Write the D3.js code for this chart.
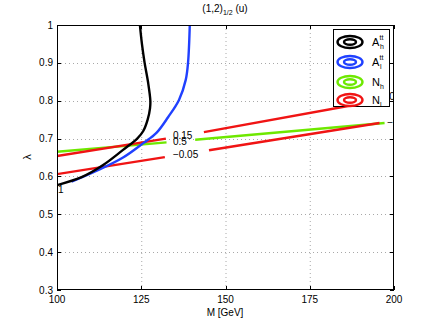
<!DOCTYPE html>
<html><head><meta charset="utf-8">
<script src="https://cdn.jsdelivr.net/npm/d3@7"></script>
<style>body{margin:0;background:#fff}text{font-family:"Liberation Sans",Arial,sans-serif}</style>
</head><body><svg id="c" width="436" height="327"></svg>
<script>
// ---- data ----
const xTicks = [100, 125, 150, 175, 200];
const yTicks = [0.3, 0.4, 0.5, 0.6, 0.7, 0.8, 0.9, 1];
const yTickLabels = ["0.3","0.4","0.5","0.6","0.7","0.8","0.9","1"];
// A_h^tt contour (M, lambda)
const blackM = [100, 107.3, 113.7, 119.6, 123.8, 125.6, 126.9, 127.6, 127.7, 127.0, 126.0, 125.2, 124.6];
const blackL = [0.577, 0.598, 0.630, 0.670, 0.700, 0.720, 0.750, 0.780, 0.800, 0.850, 0.900, 0.950, 1.000];
// A_l^tt contour
const blueM = [104.3, 111.8, 119.6, 125.6, 129.5, 133.0, 136.2, 138.2, 138.9, 139.4];
const blueL = [0.586, 0.615, 0.650, 0.688, 0.715, 0.757, 0.802, 0.855, 0.902, 1.000];
// N_h contour (0.5), two pieces around its label
const greenSeg1M = [100, 132.5], greenSeg1L = [0.665, 0.690];
const greenSeg2M = [141, 197.2], greenSeg2L = [0.697, 0.741];
// N_l contours 0.15 and -0.05
const redASeg1M = [100, 132.3], redASeg1L = [0.654, 0.700];
const redASeg2M = [143.6, 195], redASeg2L = [0.717, 0.800];
const redBSeg1M = [100, 132], redBSeg1L = [0.606, 0.651];
const redBSeg2M = [145.1, 195.7], redBSeg2L = [0.669, 0.741];
// contour labels
const labelText = ["0.15", "0.5", "\u22120.05", "0.15", "\u22120.05", "0.1"];
const labelM = [134.4, 134.4, 134.4, 198.6, 198.0, 97.8];
const labelL = [0.700, 0.682, 0.648, 0.802, 0.733, 0.556];
const legendNames = ["A", "A", "N", "N"];
const legendSup = ["tt", "tt", "", ""];
const legendSub = ["h", "l", "h", "l"];
const colors = ["#000000", "#2040ff", "#6ee800", "#f01414"];

// ---- drawing ----
const svg = d3.select("#c");
const x = d3.scaleLinear([100, 200], [57, 394]);
const y = d3.scaleLinear([0.3, 1], [290, 25]);

svg.append("defs").append("clipPath").attr("id", "clip")
  .append("rect").attr("x", 57).attr("y", 25).attr("width", 337).attr("height", 265);

// grid
const grid = svg.append("g").attr("stroke", "#a8a8a8").attr("stroke-width", 1).attr("stroke-dasharray", "1,3");
xTicks.slice(1, -1).forEach(t => grid.append("line").attr("x1", x(t)+0.5).attr("x2", x(t)+0.5).attr("y1", 25).attr("y2", 290));
yTicks.slice(1, -1).forEach(t => grid.append("line").attr("y1", Math.round(y(t))+0.5).attr("y2", Math.round(y(t))+0.5).attr("x1", 57).attr("x2", 394));

const plot = svg.append("g").attr("clip-path", "url(#clip)");
const line = d3.line().x(d => x(d[0])).y(d => y(d[1]));
const smooth = d3.line().x(d => x(d[0])).y(d => y(d[1])).curve(d3.curveCatmullRom);
const zip = (a, b) => a.map((v, i) => [v, b[i]]);

function draw(path, gen, color) {
  plot.append("path").attr("d", gen(path)).attr("fill", "none")
    .attr("stroke", color).attr("stroke-width", 2.4).attr("stroke-linecap", "butt");
}
draw(zip(greenSeg1M, greenSeg1L), line, colors[2]);
draw(zip(greenSeg2M, greenSeg2L), line, colors[2]);
draw(zip(redASeg1M, redASeg1L), line, colors[3]);
draw(zip(redASeg2M, redASeg2L), line, colors[3]);
draw(zip(redBSeg1M, redBSeg1L), line, colors[3]);
draw(zip(redBSeg2M, redBSeg2L), line, colors[3]);
draw(zip(blueM, blueL), smooth, colors[1]);
draw(zip(blackM, blackL), smooth, colors[0]);

labelText.forEach((t, i) => {
  plot.append("text").attr("x", x(labelM[i])).attr("y", y(labelL[i]))
    .attr("font-size", 10).attr("fill", "#000").text(t);
});

// axes box and ticks
const ax = svg.append("g").attr("stroke", "#000").attr("stroke-width", 1).attr("fill", "none");
ax.append("rect").attr("x", 57.5).attr("y", 25.5).attr("width", 336).attr("height", 264);
xTicks.forEach(t => {
  const px = Math.round(x(t)) + 0.5;
  ax.append("line").attr("x1", px).attr("x2", px).attr("y1", 290).attr("y2", 286);
  ax.append("line").attr("x1", px).attr("x2", px).attr("y1", 25).attr("y2", 29);
});
yTicks.forEach(t => {
  const py = Math.round(y(t)) + 0.5;
  ax.append("line").attr("x1", 57).attr("x2", 61).attr("y1", py).attr("y2", py);
  ax.append("line").attr("x1", 394).attr("x2", 390).attr("y1", py).attr("y2", py);
});

const xAxisLabels = svg.append("g").attr("font-size", 10).attr("text-anchor", "middle");
xTicks.forEach(t => xAxisLabels.append("text").attr("x", x(t)).attr("y", 303).text(t));
const yAxisLabels = svg.append("g").attr("font-size", 10).attr("text-anchor", "end");
yTicks.forEach((t, i) => yAxisLabels.append("text").attr("x", 53).attr("y", y(t) + 3.5).text(yTickLabels[i]));

svg.append("text").attr("x", 225).attr("y", 316).attr("font-size", 10).attr("text-anchor", "middle").text("M [GeV]");
svg.append("text").attr("transform", "translate(31,157) rotate(-90)").attr("font-size", 11)
  .attr("text-anchor", "middle").text("\u03bb");

const title = svg.append("text").attr("x", 225).attr("y", 12).attr("font-size", 10).attr("text-anchor", "middle");
title.append("tspan").text("(1,2)");
title.append("tspan").attr("font-size", 7).attr("dy", 3).text("1/2");
title.append("tspan").attr("dy", -3).text(" (u)");

// legend
const lg = svg.append("g");
lg.append("rect").attr("x", 333.5).attr("y", 29.5).attr("width", 56).attr("height", 77)
  .attr("fill", "#fff").attr("stroke", "#000").attr("stroke-width", 1);
const rowY = [42, 62, 82, 100];
legendNames.forEach((n, i) => {
  const cy = rowY[i];
  lg.append("ellipse").attr("cx", 350).attr("cy", cy).attr("rx", 12.5).attr("ry", 6)
    .attr("fill", "none").attr("stroke", colors[i]).attr("stroke-width", 2.4);
  lg.append("ellipse").attr("cx", 350).attr("cy", cy).attr("rx", 6).attr("ry", 2.8)
    .attr("fill", "none").attr("stroke", colors[i]).attr("stroke-width", 2.4);
  lg.append("text").attr("x", 372).attr("y", cy + 3.5).attr("font-size", 11).text(n);
  if (legendSup[i]) lg.append("text").attr("x", 379.5).attr("y", cy - 2.5).attr("font-size", 7).text(legendSup[i]);
  lg.append("text").attr("x", 380).attr("y", cy + 6.5).attr("font-size", 7).text(legendSub[i]);
});
</script></body></html>
